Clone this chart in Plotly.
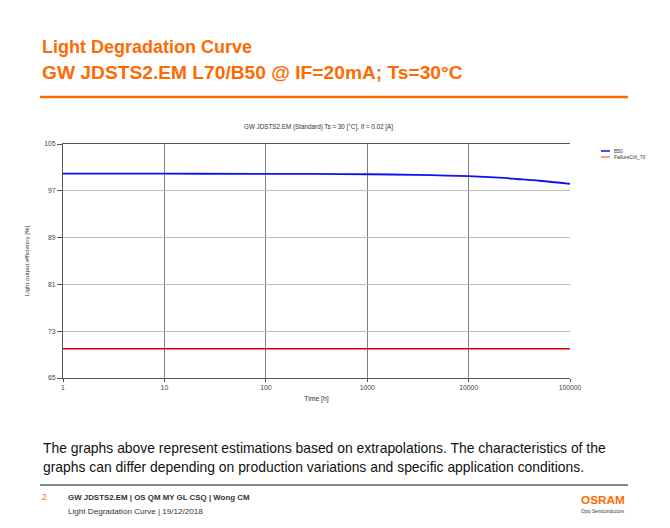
import plotly.graph_objects as go

# ---- data ----
time_h = [1, 10, 100, 300, 1000, 3000, 10000, 20000, 30000, 50000, 100000]
b50 = [99.92, 99.92, 99.9, 99.88, 99.83, 99.73, 99.5, 99.25, 99.02, 98.72, 98.18]
fail_time = [1, 100000]
fail_crit = [70, 70]
x_ticks = [1, 10, 100, 1000, 10000, 100000]
x_tick_labels = ["1", "10", "100", "1000", "10000", "100000"]
y_ticks = [65, 73, 81, 89, 97, 105]

OFF = 8  # page body margin
W, H = 670 - OFF, 528 - OFF
L, R, T, B = 63, 570, 144, 378  # plot area pixel box (page coords)

def px(x):
    return (x - L) / (R - L)

def py(y):
    return (B - y) / (B - T)

ORANGE = "#FF6A00"
FONT = "Liberation Sans, Arial, sans-serif"
NARROW = "Liberation Sans Narrow, Arial Narrow, Liberation Sans, sans-serif"

fig = go.Figure()
fig.add_trace(go.Scatter(x=time_h, y=b50, mode="lines", name="B50",
                         line=dict(color="#1010F0", width=1.8, shape="spline"),
                         showlegend=False))
fig.add_trace(go.Scatter(x=fail_time, y=fail_crit, mode="lines", name="FailureCrit_70",
                         line=dict(color="#D00000", width=1.3), showlegend=False))

fig.update_layout(
    width=W, height=H,
    margin=dict(l=L - OFF, r=W - (R - OFF), t=T - OFF, b=H - (B - OFF), pad=0),
    paper_bgcolor="white", plot_bgcolor="white",
    font=dict(family=FONT, size=7, color="#333"),
    xaxis=dict(type="log", range=[0, 5], tickvals=x_ticks, ticktext=x_tick_labels,
               showgrid=True, gridcolor="#808080", gridwidth=1,
               showline=True, linecolor="#555", linewidth=1, mirror=True,
               ticks="outside", ticklen=3, tickcolor="#555",
               tickfont=dict(size=6.8, color="#444"),
               title=dict(text="Time [h]", font=dict(size=6.8, color="#333"), standoff=6),
               zeroline=False),
    yaxis=dict(range=[65, 105], tickvals=y_ticks,
               showgrid=True, gridcolor="#BBBBBB", gridwidth=1,
               showline=True, linecolor="#555", linewidth=1,
               ticks="outside", ticklen=5, tickcolor="#555",
               tickfont=dict(size=6.8, color="#444"),
               title=dict(text="Light output efficiency [%]", font=dict(size=6.2, color="#333"), standoff=14),
               zeroline=False),
)

ann = []
def text(x, y, s, size, color="#222", bold=False, xanchor="left", yanchor="middle", family=FONT):
    ann.append(dict(xref="paper", yref="paper", x=px(x), y=py(y), text=(f"<b>{s}</b>" if bold else s),
                    showarrow=False, xanchor=xanchor, yanchor=yanchor,
                    font=dict(family=family, size=size, color=color)))

text(40, 47, "Light Degradation Curve", 18, ORANGE, bold=True)
text(40, 73, "GW JDSTS2.EM L70/B50 @ IF=20mA; Ts=30°C", 19.2, ORANGE, bold=True)
text(318, 127, "GW JDSTS2.EM (Standard) Ts = 30 [°C], If = 0.02 [A]", 6.3, "#333", xanchor="center")
text(41, 448, "The graphs above represent estimations based on extrapolations. The characteristics of the", 13.9, "#111")
text(41, 467, "graphs can differ depending on production variations and specific application conditions.", 13.9, "#111")
text(40, 497, "2", 8.5, ORANGE)
text(66, 497, "<b>GW JDSTS2.EM | OS QM MY GL CSQ | Wong CM</b>", 7.9, "#333")
text(66, 511, "Light Degradation Curve | 19/12/2018", 8.1, "#333")
text(627, 500, "<b>OSRAM</b>", 11.8, ORANGE, xanchor="right")
text(627, 511, "Opto Semiconductors", 4.5, "#333", xanchor="right")
# legend
text(612, 151, "B50", 5, "#333")
text(612, 157, "FailureCrit_70", 5, "#333")

shapes = [
    dict(type="line", xref="paper", yref="paper", x0=px(40), x1=px(628), y0=py(97), y1=py(97),
         line=dict(color=ORANGE, width=2.5)),
    dict(type="line", xref="paper", yref="paper", x0=px(40), x1=px(628), y0=py(485), y1=py(485),
         line=dict(color="#888", width=2)),
    dict(type="line", xref="paper", yref="paper", x0=px(601), x1=px(610), y0=py(151), y1=py(151),
         line=dict(color="#1010F0", width=1.5)),
    dict(type="line", xref="paper", yref="paper", x0=px(601), x1=px(610), y0=py(157), y1=py(157),
         line=dict(color="#F08080", width=1.5)),
]
fig.update_layout(annotations=ann, shapes=shapes)

fig.write_html("out.html")
